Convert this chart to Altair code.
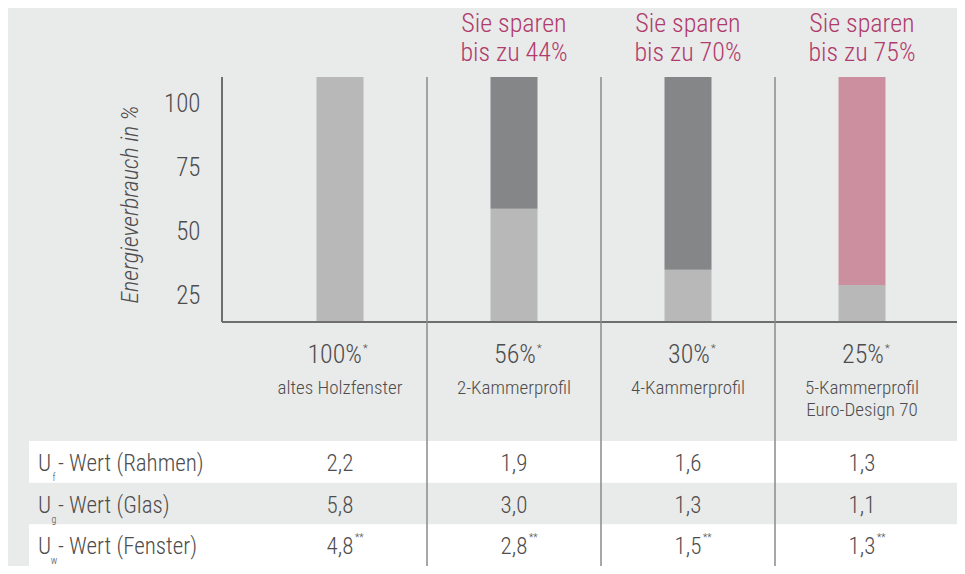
import altair as alt
import pandas as pd

# ---- data ----
columns = ["altes Holzfenster", "2-Kammerprofil", "4-Kammerprofil", "5-Kammerprofil Euro-Design 70"]
column_labels = ["altes Holzfenster", "2-Kammerprofil", "4-Kammerprofil", "5-Kammerprofil\nEuro-Design 70"]
consumption_labels = ["100%", "56%", "30%", "25%"]
savings_labels = ["", "Sie sparen\nbis zu 44%", "Sie sparen\nbis zu 70%", "Sie sparen\nbis zu 75%"]
bar_split = [110.5, 59.0, 35.2, 29.3]   # top of the light (remaining consumption) segment, read on the axis
bar_top = 110.5
bar_floor = 14.8
upper_segment = ["", "Einsparung", "Einsparung", "Einsparung Euro-Design 70"]
y_ticks = [25, 50, 75, 100]

row_ids = ["f", "g", "w"]
row_names = ["- Wert (Rahmen)", "- Wert (Glas)", "- Wert (Fenster)"]
u_f = ["2,2", "1,9", "1,6", "1,3"]
u_g = ["5,8", "3,0", "1,3", "1,1"]
u_w = ["4,8", "2,8", "1,5", "1,3"]

# ---- styles ----
FONT = "Roboto Condensed, Liberation Sans Narrow, DejaVu Sans Condensed, Liberation Sans"
W = 300
TXT = "#4d4d4d"
MAGENTA = "#b03c6c"
BG = "#e9eaea"
seg_domain = ["Restverbrauch", "Einsparung", "Einsparung Euro-Design 70"]
seg_range = ["#b7b8b7", "#858687", "#cb8fa0"]

# ---- tables ----
bar_rows = []
for c, s, u in zip(columns, bar_split, upper_segment):
    bar_rows.append({"col": c, "y": bar_floor, "y2": s, "seg": "Restverbrauch"})
    if u:
        bar_rows.append({"col": c, "y": s, "y2": bar_top, "seg": u})
bars_df = pd.DataFrame(bar_rows)

cols_df = pd.DataFrame({
    "col": columns, "label": column_labels, "pct": consumption_labels,
    "save": savings_labels, "top": bar_top, "floor": bar_floor,
})
sep_df = pd.DataFrame({"col": columns[1:], "top": bar_top})
frame_df = pd.DataFrame({"floor": [bar_floor], "top": [bar_top]})

vals = []
for rid, arr in zip(row_ids, [u_f, u_g, u_w]):
    for c, v in zip(columns, arr):
        vals.append({"row": rid, "col": c, "v": v})
vals_df = pd.DataFrame(vals)
rows_df = pd.DataFrame({"row": row_ids, "name": row_names})

# ---- scales ----
xs = alt.Scale(domain=columns, range=[245, 941], paddingInner=0, paddingOuter=0)
ys = alt.Scale(domain=[bar_floor, bar_top], range=[314, 69], nice=False, zero=False)
rs = alt.Scale(domain=row_ids, range=[433, 558], paddingInner=0, paddingOuter=0)
X = alt.X("col:N", scale=xs, axis=None)

# table background rows
white_rows = alt.Chart(rows_df).transform_filter(alt.datum.row != "g").mark_rect(color="#ffffff").encode(
    y=alt.Y("row:N", scale=rs, axis=None),
    x=alt.value(21), x2=alt.value(949),
)

# bars
bars = alt.Chart(bars_df).mark_bar(width=47).encode(
    x=X,
    y=alt.Y("y:Q", scale=ys, axis=alt.Axis(
        values=y_ticks, domain=False, ticks=False, grid=False,
        labelFont=FONT, labelFontSize=25, labelFontWeight=W, labelColor=TXT, labelPadding=0, offset=-192,
        title="Energieverbrauch in %", titleFont=FONT, titleFontSize=24,
        titleFontStyle="italic", titleFontWeight=W, titleColor=TXT,
        titleX=-70, titleY=196, titleBaseline="middle", titleAngle=270,
    )),
    y2="y2:Q",
    color=alt.Color("seg:N", scale=alt.Scale(domain=seg_domain, range=seg_range), legend=None),
)

# axis lines
y_axis_line = alt.Chart(frame_df).mark_rule(color="#6e6e6e", strokeWidth=2).encode(
    x=alt.value(214), y=alt.Y("floor:Q", scale=ys, axis=None), y2="top:Q")
x_axis_line = alt.Chart(frame_df).mark_rule(color="#6e6e6e", strokeWidth=2).encode(
    y=alt.Y("floor:Q", scale=ys, axis=None), x=alt.value(214), x2=alt.value(949))

# column separators
seps = alt.Chart(sep_df).mark_rule(color="#8a8a8a", strokeWidth=1.5).encode(
    x=alt.X("col:N", scale=xs, axis=None, bandPosition=0),
    y=alt.Y("top:Q", scale=ys, axis=None), y2=alt.value(558))

# savings headline
save_txt = alt.Chart(cols_df).mark_text(
    font=FONT, fontSize=26, fontWeight=W, color=MAGENTA, lineBreak="\n", lineHeight=29,
    baseline="alphabetic", dy=-45).encode(
    x=X, y=alt.Y("top:Q", scale=ys, axis=None), text="save:N")

# consumption percentages + asterisk
pct_txt = alt.Chart(cols_df).mark_text(
    font=FONT, fontSize=26, fontWeight=W, color=TXT, align="right", baseline="alphabetic", dx=22, dy=41).encode(
    x=X, y=alt.Y("floor:Q", scale=ys, axis=None), text="pct:N")
pct_star = alt.Chart(cols_df).mark_text(
    font=FONT, fontSize=11, fontWeight=W, color=TXT, align="left", baseline="alphabetic", dx=23, dy=30, text="*").encode(
    x=X, y=alt.Y("floor:Q", scale=ys, axis=None))

# column names
name_txt = alt.Chart(cols_df).mark_text(
    font=FONT, fontSize=19, fontWeight=W, color=TXT, lineBreak="\n", lineHeight=22,
    baseline="alphabetic", dy=72).encode(
    x=X, y=alt.Y("floor:Q", scale=ys, axis=None), text="label:N")

# table values
val_txt = alt.Chart(vals_df).mark_text(
    font=FONT, fontSize=23, fontWeight=W, color=TXT, baseline="middle", dy=2).encode(
    x=X, y=alt.Y("row:N", scale=rs, axis=None), text="v:N")
val_star = alt.Chart(vals_df).transform_filter(alt.datum.row == "w").mark_text(
    font=FONT, fontSize=10, fontWeight=W, color=TXT, align="left", baseline="middle", dx=15, dy=-7, text="**").encode(
    x=X, y=alt.Y("row:N", scale=rs, axis=None))

# row labels: U + subscript + rest
row_u = alt.Chart(rows_df).mark_text(
    font=FONT, fontSize=23, fontWeight=W, color=TXT, align="left", baseline="middle", dy=2, text="U").encode(
    x=alt.value(30), y=alt.Y("row:N", scale=rs, axis=None))
row_sub = alt.Chart(rows_df).mark_text(
    font=FONT, fontSize=10, fontWeight=W, color=TXT, align="center", baseline="middle", dy=16).encode(
    x=alt.value(46), y=alt.Y("row:N", scale=rs, axis=None), text="row:N")
row_rest = alt.Chart(rows_df).mark_text(
    font=FONT, fontSize=23, fontWeight=W, color=TXT, align="left", baseline="middle", dy=2).encode(
    x=alt.value(50), y=alt.Y("row:N", scale=rs, axis=None), text="name:N")

chart = alt.layer(
    white_rows, bars, y_axis_line, x_axis_line, seps,
    save_txt, pct_txt, pct_star, name_txt,
    val_txt, val_star, row_u, row_sub, row_rest,
).resolve_scale(y="independent").properties(
    width=949, height=558,
    autosize=alt.AutoSizeParams(type="none"),
    padding=0,
    background=BG,
).configure_view(stroke=None)

chart.save("out.html", embed_options={"renderer": "svg", "actions": False})
